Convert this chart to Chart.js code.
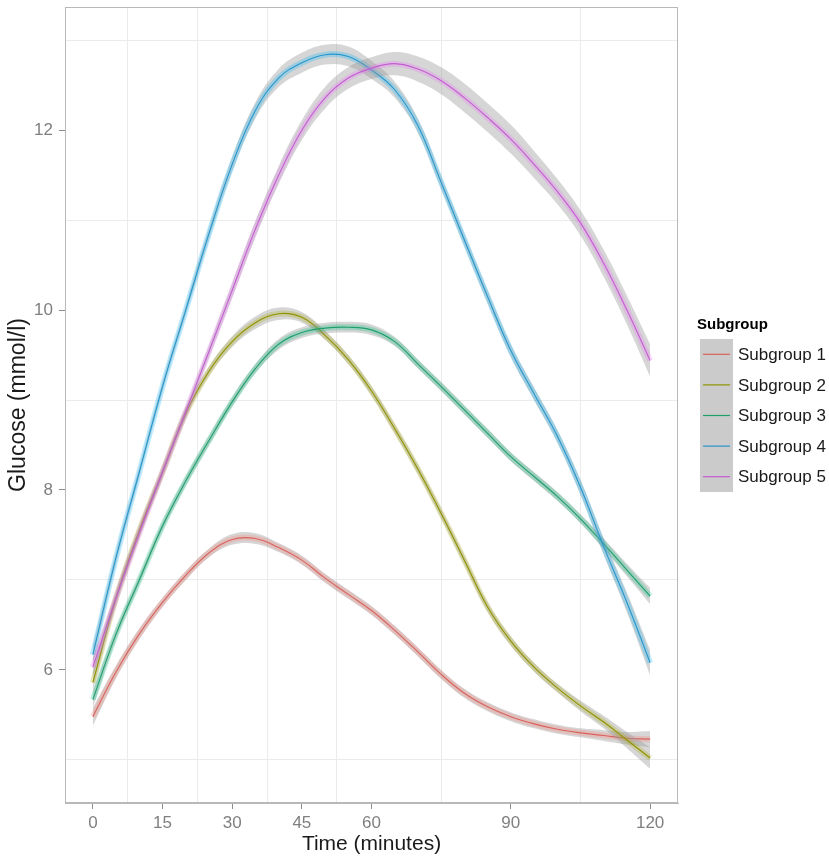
<!DOCTYPE html>
<html>
<head>
<meta charset="utf-8">
<title>Glucose by subgroup</title>
<script src="https://cdn.jsdelivr.net/npm/chart.js@4.4.1/dist/chart.umd.min.js"></script>
<style>
  html, body { margin: 0; padding: 0; background: #fff; }
  canvas { display: block; }
</style>
</head>
<body>
<canvas id="glucose-chart" width="829" height="859"></canvas>
<script>
// time points (minutes)
var times = [0, 5, 10, 15, 20, 25, 30, 35, 40, 45, 50, 55, 60, 65, 70, 75, 80, 85, 90, 95, 100, 105, 110, 115, 120];

var groupNames = ['Subgroup 1', 'Subgroup 2', 'Subgroup 3', 'Subgroup 4', 'Subgroup 5'];

// smoothed glucose (mmol/l)
var glucose1 = [5.48, 5.98, 6.40, 6.75, 7.05, 7.30, 7.45, 7.46, 7.36, 7.22, 7.02, 6.84, 6.66, 6.44, 6.20, 5.95, 5.74, 5.59, 5.48, 5.40, 5.34, 5.30, 5.27, 5.24, 5.23];
var glucose2 = [5.86, 6.80, 7.55, 8.20, 8.85, 9.32, 9.65, 9.86, 9.96, 9.92, 9.72, 9.45, 9.10, 8.68, 8.23, 7.74, 7.22, 6.70, 6.32, 6.03, 5.80, 5.60, 5.42, 5.22, 5.02];
var glucose3 = [5.67, 6.40, 7.00, 7.60, 8.10, 8.55, 8.98, 9.35, 9.62, 9.75, 9.80, 9.81, 9.78, 9.65, 9.40, 9.15, 8.89, 8.63, 8.37, 8.15, 7.93, 7.68, 7.40, 7.11, 6.82];
var glucose4 = [6.17, 7.25, 8.20, 9.15, 10.00, 10.85, 11.62, 12.22, 12.58, 12.75, 12.84, 12.82, 12.67, 12.45, 12.05, 11.42, 10.78, 10.15, 9.55, 9.07, 8.60, 8.03, 7.37, 6.75, 6.08];
var glucose5 = [6.03, 6.80, 7.52, 8.20, 8.87, 9.54, 10.22, 10.90, 11.50, 12.00, 12.36, 12.58, 12.69, 12.74, 12.68, 12.55, 12.36, 12.14, 11.90, 11.62, 11.32, 10.97, 10.52, 10.00, 9.44];

// half-width of the grey confidence band (mmol/l)
var band1 = [0.10, 0.07, 0.06, 0.05, 0.05, 0.05, 0.06, 0.06, 0.05, 0.05, 0.05, 0.05, 0.05, 0.05, 0.05, 0.05, 0.05, 0.05, 0.05, 0.05, 0.05, 0.05, 0.06, 0.07, 0.09];
var band2 = [0.10, 0.07, 0.06, 0.05, 0.05, 0.05, 0.06, 0.07, 0.07, 0.06, 0.05, 0.05, 0.05, 0.05, 0.05, 0.05, 0.05, 0.05, 0.05, 0.05, 0.05, 0.06, 0.07, 0.09, 0.12];
var band3 = [0.09, 0.06, 0.05, 0.05, 0.05, 0.05, 0.05, 0.05, 0.06, 0.06, 0.06, 0.06, 0.06, 0.05, 0.05, 0.05, 0.05, 0.05, 0.05, 0.05, 0.05, 0.05, 0.06, 0.07, 0.09];
var band4 = [0.10, 0.07, 0.06, 0.06, 0.06, 0.07, 0.08, 0.09, 0.10, 0.11, 0.11, 0.11, 0.10, 0.09, 0.08, 0.07, 0.07, 0.07, 0.07, 0.07, 0.07, 0.08, 0.09, 0.11, 0.14];
var band5 = [0.10, 0.07, 0.06, 0.06, 0.06, 0.07, 0.08, 0.09, 0.10, 0.11, 0.12, 0.12, 0.12, 0.13, 0.14, 0.15, 0.16, 0.16, 0.16, 0.15, 0.14, 0.14, 0.15, 0.16, 0.18];

var xMajorTicks = [0, 15, 30, 45, 60, 90, 120];
var xMinorTicks = [7.5, 22.5, 37.5, 52.5, 75, 105];
var yMajorTicks = [6, 8, 10, 12];
var yMinorTicks = [5, 7, 9, 11, 13];

var lineColors = ['#d9625c', '#909200', '#1f9f6c', '#2796cc', '#c45cd2'];
var haloColors = ['rgba(248,118,109,0.26)', 'rgba(163,165,0,0.26)', 'rgba(0,191,125,0.26)', 'rgba(0,176,246,0.26)', 'rgba(231,107,243,0.26)'];

var series = [glucose1, glucose2, glucose3, glucose4, glucose5];
var bands = [band1, band2, band3, band4, band5];

function points(vals, se, sign) {
    return times.map(function(t, j) {
        return { x: t, y: vals[j] + sign * se[j] };
    });
}

// each subgroup: grey ribbon, soft coloured halo, thin line; later groups on top
var datasets = [];
series.forEach(function(vals, i) {
    var layer = (series.length - i) * 10;
    var common = { pointRadius: 0, pointHoverRadius: 0, tension: 0.4 };
    datasets.push(Object.assign({}, common, {
        label: groupNames[i] + ' upper', data: points(vals, bands[i], 1),
        borderWidth: 0, borderColor: 'rgba(0,0,0,0)', fill: false, order: layer + 3
    }));
    datasets.push(Object.assign({}, common, {
        label: groupNames[i] + ' lower', data: points(vals, bands[i], -1),
        borderWidth: 0, borderColor: 'rgba(0,0,0,0)', fill: '-1',
        backgroundColor: 'rgba(153,153,153,0.4)', order: layer + 3
    }));
    datasets.push(Object.assign({}, common, {
        label: groupNames[i] + ' halo', data: points(vals, bands[i], 0),
        borderWidth: 6, borderColor: haloColors[i], fill: false, order: layer + 2
    }));
    datasets.push(Object.assign({}, common, {
        label: groupNames[i], data: points(vals, bands[i], 0),
        borderWidth: 1.1, borderColor: lineColors[i], fill: false, order: layer + 1
    }));
});

var FONT = '"Liberation Sans", Arial, sans-serif';

// panel border + ggplot-style legend on the right
var panelAndLegend = {
    id: 'panelAndLegend',
    afterDraw: function(chart) {
        var ctx = chart.ctx;
        var a = chart.chartArea;
        ctx.save();
        ctx.strokeStyle = '#b8b8b8';
        ctx.lineWidth = 1;
        ctx.strokeRect(a.left + 0.5, a.top + 0.5, a.right - a.left - 1, a.bottom - a.top - 1);

        var keyX = 700, keyTop = 339, keyW = 33, rowH = 30.6;
        ctx.fillStyle = '#000';
        ctx.font = 'bold 15px ' + FONT;
        ctx.textBaseline = 'middle';
        ctx.textAlign = 'left';
        ctx.fillText('Subgroup', 697, 325);

        ctx.fillStyle = '#cbcbcb';
        ctx.fillRect(keyX, keyTop, keyW, rowH * groupNames.length);
        ctx.font = '17px ' + FONT;
        groupNames.forEach(function(name, i) {
            var cy = keyTop + rowH * (i + 0.5);
            ctx.strokeStyle = lineColors[i];
            ctx.lineWidth = 1.2;
            ctx.beginPath(); ctx.moveTo(keyX + 3, cy); ctx.lineTo(keyX + keyW - 3, cy); ctx.stroke();
            ctx.fillStyle = '#1a1a1a';
            ctx.fillText(name, 738, cy + 1);
        });
        ctx.restore();
    }
};

new Chart(document.getElementById('glucose-chart'), {
    type: 'line',
    data: { datasets: datasets },
    options: {
        responsive: false,
        animation: false,
        events: [],
        layout: { padding: { top: 7, right: 151, left: 0, bottom: 0 } },
        plugins: {
            legend: { display: false },
            tooltip: { enabled: false }
        },
        scales: {
            x: {
                type: 'linear',
                min: -6, max: 126,
                afterBuildTicks: function(scale) {
                    scale.ticks = xMajorTicks.concat(xMinorTicks).sort(function(a, b) { return a - b; })
                        .map(function(v) { return { value: v }; });
                },
                afterFit: function(scale) { scale.height = 56; scale.paddingLeft = 0; scale.paddingRight = 0; },
                ticks: {
                    autoSkip: false, maxRotation: 0, padding: 4,
                    color: '#7f7f7f', font: { family: FONT, size: 17 },
                    callback: function(v) { return xMajorTicks.indexOf(v) >= 0 ? String(v) : ''; }
                },
                grid: {
                    color: function(c) { return c.tick && xMinorTicks.indexOf(c.tick.value) >= 0 ? '#ebebeb' : 'rgba(0,0,0,0)'; },
                    tickColor: function(c) { return c.tick && xMajorTicks.indexOf(c.tick.value) >= 0 ? '#8c8c8c' : 'rgba(0,0,0,0)'; },
                    tickLength: 6, lineWidth: 1
                },
                border: { display: true, color: '#b8b8b8' },
                title: {
                    display: true, text: 'Time (minutes)', color: '#1a1a1a',
                    font: { family: FONT, size: 21 }, padding: { top: 0, bottom: 2 }
                }
            },
            y: {
                type: 'linear',
                min: 4.52, max: 13.37,
                afterBuildTicks: function(scale) {
                    scale.ticks = yMinorTicks.concat(yMajorTicks).sort(function(a, b) { return a - b; })
                        .map(function(v) { return { value: v }; });
                },
                afterFit: function(scale) { scale.width = 65; scale.paddingTop = 0; scale.paddingBottom = 0; },
                ticks: {
                    autoSkip: false, padding: 6,
                    color: '#7f7f7f', font: { family: FONT, size: 17 },
                    callback: function(v) { return yMajorTicks.indexOf(v) >= 0 ? String(v) : ''; }
                },
                grid: {
                    color: function(c) { return c.tick && yMinorTicks.indexOf(c.tick.value) >= 0 ? '#ebebeb' : 'rgba(0,0,0,0)'; },
                    tickColor: function(c) { return c.tick && yMajorTicks.indexOf(c.tick.value) >= 0 ? '#8c8c8c' : 'rgba(0,0,0,0)'; },
                    tickLength: 6, lineWidth: 1
                },
                border: { display: true, color: '#b8b8b8' },
                title: {
                    display: true, text: 'Glucose (mmol/l)', color: '#1a1a1a',
                    font: { family: FONT, size: 23 }, padding: { top: 5, bottom: 0 }
                }
            }
        }
    },
    plugins: [panelAndLegend]
});
</script>
</body>
</html>
